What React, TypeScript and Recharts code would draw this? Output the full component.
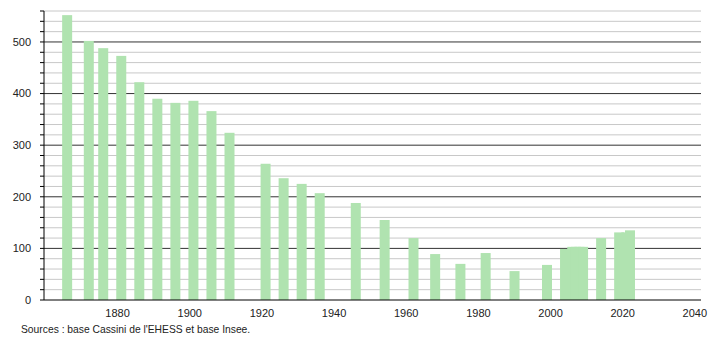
import { BarChart, Bar, XAxis, YAxis, CartesianGrid } from "recharts"

const years = [
  1866, 1872, 1876, 1881, 1886, 1891, 1896, 1901, 1906, 1911, 1921, 1926, 1931,
  1936, 1946, 1954, 1962, 1968, 1975, 1982, 1990, 1999, 2004, 2006, 2007, 2008,
  2009, 2014, 2019, 2021, 2022,
]
const population = [
  552, 502, 488, 473, 422, 390, 382, 386, 366, 324, 264, 236, 225, 207, 188,
  155, 120, 89, 70, 91, 56, 68, 99, 103, 103, 103, 103, 120, 131, 131, 135,
]
const yearTicks = [1880, 1900, 1920, 1940, 1960, 1980, 2000, 2020, 2040]
const minorLines = [
  20, 40, 60, 80, 120, 140, 160, 180, 220, 240, 260, 280, 320, 340, 360, 380,
  420, 440, 460, 480, 520, 540, 560,
]
const majorLines = [100, 200, 300, 400, 500]
const valueTicks = [
  0, 20, 40, 60, 80, 100, 120, 140, 160, 180, 200, 220, 240, 260, 280, 300, 320,
  340, 360, 380, 400, 420, 440, 460, 480, 500, 520, 540, 560,
]
const source = "Sources : base Cassini de l'EHESS et base Insee."

const chartData = years.map((y, i) => ({ year: y, pop: population[i] }))

const font = "'Liberation Sans', Arial, sans-serif"

// draws every bar 10px wide, centred on its year (consecutive years would otherwise shrink them)
function FixedBar(props: any) {
  const { x, y, width, height, fill } = props
  if (height == null || height <= 0) return null
  const cx = x + width / 2
  return <rect x={cx - 5} y={y} width={10} height={height} fill={fill} />
}

export default function App() {
  return (
    <div style={{ position: "relative", width: 710, height: 340, fontFamily: font }}>
      <style>{`body{margin:0}`}</style>
      <BarChart
        width={710}
        height={340}
        data={chartData}
        margin={{ top: 11, right: 9, bottom: 20, left: 0 }}
      >
        <CartesianGrid
          vertical={false}
          horizontalValues={minorLines}
          stroke="#c8c8c8"
          strokeWidth={1}
        />
        <CartesianGrid
          vertical={false}
          horizontalValues={majorLines}
          stroke="#333"
          strokeWidth={1}
        />
        <XAxis
          dataKey="year"
          type="number"
          domain={[1859.6, 2041.7]}
          ticks={yearTicks}
          allowDataOverflow
          tickLine={false}
          axisLine={{ stroke: "#000" }}
          tick={{ fontSize: 11, fill: "#222", fontFamily: font }}
          tickMargin={3}
          height={20}
        />
        <YAxis
          type="number"
          domain={[0, 560]}
          ticks={valueTicks}
          interval={0}
          width={44}
          tickSize={4}
          tickMargin={9}
          tickFormatter={(v: number) => (v % 100 === 0 ? String(v) : "")}
          axisLine={{ stroke: "#000" }}
          tickLine={{ stroke: "#000" }}
          tick={{ fontSize: 11, fill: "#222", fontFamily: font }}
        />
        <Bar
          dataKey="pop"
          fill="#b0e3b0"
          shape={<FixedBar />}
          isAnimationActive={false}
        />
      </BarChart>
      <div
        style={{
          position: "absolute",
          left: 21,
          top: 323.5,
          fontSize: 10.3,
          color: "#222",
          whiteSpace: "nowrap",
        }}
      >
        {source}
      </div>
    </div>
  )
}
